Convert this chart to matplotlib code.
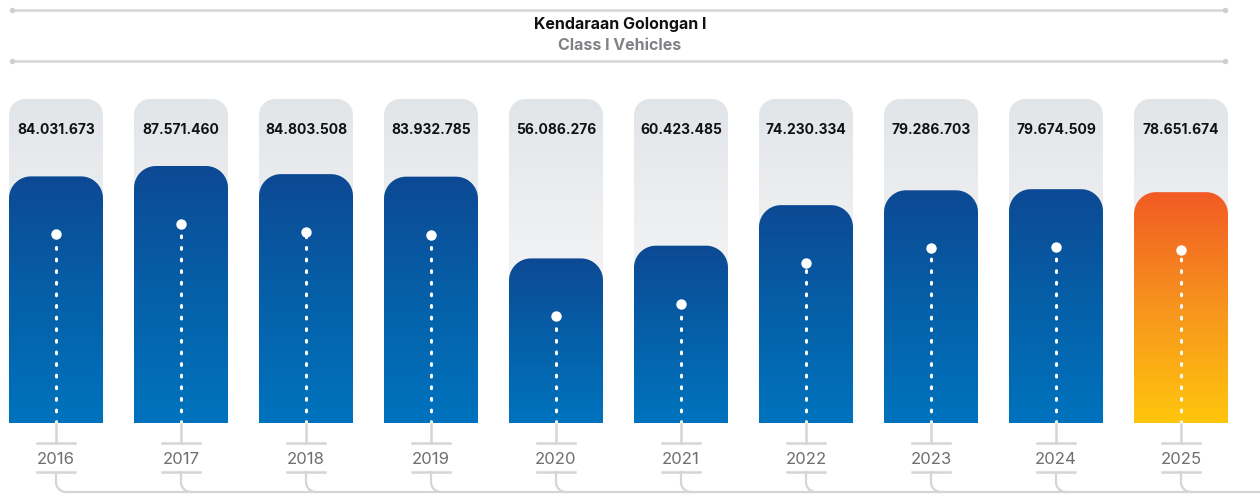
import numpy as np
import matplotlib
matplotlib.use('Agg')
import matplotlib.pyplot as plt
from matplotlib.path import Path
from matplotlib.patches import PathPatch
from matplotlib.colors import LinearSegmentedColormap

# data
years = ['2016', '2017', '2018', '2019', '2020', '2021', '2022', '2023', '2024', '2025']
vehicles = [84031673, 87571460, 84803508, 83932785, 56086276,
            60423485, 74230334, 79286703, 79674509, 78651674]
value_labels = ['84.031.673', '87.571.460', '84.803.508', '83.932.785', '56.086.276',
                '60.423.485', '74.230.334', '79.286.703', '79.674.509', '78.651.674']
title_id = 'Kendaraan Golongan I'
title_en = 'Class I Vehicles'

# layout (pixels)
W, H = 1260, 494
x0_px, step_px = 56, 125       # first bar centre, spacing
base_px, top_px = 423, 99      # bar baseline, grey column top
bar_w = 0.752                  # in bar-index units
ymax = 110.4e6

plt.rcParams['font.family'] = ['Inter', 'DejaVu Sans']

fig = plt.figure(figsize=(W / 100, H / 100), dpi=100)
xlim = (-x0_px / step_px, (W - x0_px) / step_px)

ax = fig.add_axes([0, (H - base_px) / H, 1, (base_px - top_px) / H])
ax.set_xlim(*xlim)
ax.set_ylim(0, ymax)
ax.axis('off')

# overlay axes in index-x / pixel-y for labels and decorations
deco = fig.add_axes([0, 0, 1, 1])
deco.set_xlim(*xlim)
deco.set_ylim(H, 0)
deco.axis('off')
deco.patch.set_alpha(0)

px_x = step_px                         # pixels per x unit
px_y = (base_px - top_px) / ymax       # pixels per vehicle


def rounded_top(xc, width, top, r_px):
    # rectangle with rounded top corners, in data units
    rx, ry = r_px / px_x, r_px / px_y
    l, rgt = xc - width / 2, xc + width / 2
    t = np.linspace(0, np.pi / 2, 20)
    verts = [(l, 0), (l, top - ry)]
    verts += [(l + rx - rx * np.cos(a), top - ry + ry * np.sin(a)) for a in t]
    verts += [(rgt - rx + rx * np.sin(a), top - ry + ry * np.cos(a)) for a in t]
    verts += [(rgt, 0), (l, 0)]
    return Path(verts)


grey = LinearSegmentedColormap.from_list('grey', ['#ffffff', '#e2e5e8'])
blue = LinearSegmentedColormap.from_list('blue', ['#0073be', '#0560a8', '#0d4994'])
orange = LinearSegmentedColormap.from_list('orange', ['#ffc60c', '#f7941e', '#f15a24'])
grad = np.linspace(0, 1, 256).reshape(-1, 1)
lc = '#d4d5d7'

for i, (yr, v, lab) in enumerate(zip(years, vehicles, value_labels)):
    # grey backdrop column
    bg = PathPatch(rounded_top(i, bar_w, ymax, 16), facecolor='none', edgecolor='none')
    ax.add_patch(bg)
    im = ax.imshow(grad, cmap=grey, origin='lower', aspect='auto',
                   extent=(i - bar_w / 2, i + bar_w / 2, 0, ymax), zorder=1)
    im.set_clip_path(bg)

    # bar
    cmap = orange if yr == '2025' else blue
    bar = PathPatch(rounded_top(i, bar_w, v, 22), facecolor='none', edgecolor='none')
    ax.add_patch(bar)
    im = ax.imshow(grad, cmap=cmap, origin='lower', aspect='auto',
                   extent=(i - bar_w / 2, i + bar_w / 2, 0, v), zorder=2)
    im.set_clip_path(bar)

    # dot and dotted line
    dot_y = v - 58 / px_y
    ax.plot([i, i], [0, dot_y], color='white', lw=2.2, ls=(0, (0.6, 3.2)),
            dash_capstyle='round', zorder=3)
    ax.plot(i, dot_y, 'o', ms=7.5, color='white', mec='none', zorder=4)

    # value label
    deco.text(i, 130, lab, ha='center', va='center', fontsize=10,
              fontweight='bold', color='#111111')

    # year tag and connector
    hw = 19 / step_px
    deco.plot([i, i], [base_px + 1, 443], color=lc, lw=1.8)
    deco.plot([i - hw, i + hw], [443, 443], color=lc, lw=1.8)
    deco.plot([i - hw, i + hw], [472, 472], color=lc, lw=1.8)
    deco.text(i, 459, yr, ha='center', va='center', fontsize=12,
              color='#6d6e71')
    r = 10
    t = np.linspace(0, np.pi / 2, 20)
    cx = i + r / step_px * (1 - np.cos(t))
    cy = 482 + r * np.sin(t)
    deco.plot(np.r_[i, cx], np.r_[472, cy], color=lc, lw=1.6)

# bottom running line
deco.plot([10 / step_px, xlim[1]], [492, 492], color=lc, lw=1.6)

# header rules
for yy in (10, 61):
    ends = [(12 - x0_px) / step_px, (1225 - x0_px) / step_px]
    deco.plot(ends, [yy, yy], color='#d6d6d6', lw=1.8, solid_capstyle='round')
    deco.plot(ends, [yy, yy], 'o', color='#cfcfcf', ms=4, mec='none')

deco.text(0.492, 1 - 25 / H, title_id, transform=deco.transAxes, ha='center',
          va='center', fontsize=11.5, fontweight='bold', color='#111111')
deco.text(0.492, 1 - 45 / H, title_en, transform=deco.transAxes, ha='center',
          va='center', fontsize=11.5, fontweight='bold', color='#808285')

fig.savefig('out.png', dpi=100)
